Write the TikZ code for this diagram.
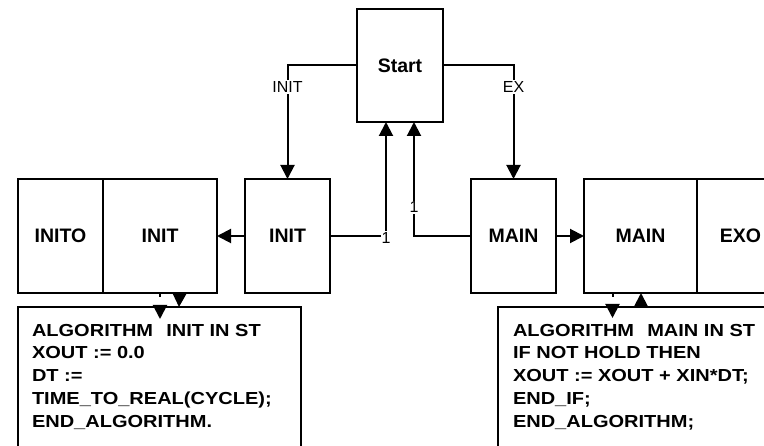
\documentclass[tikz,border=0pt]{standalone}
\usepackage{fontspec}
\setmainfont{Liberation Sans}
\newfontfamily\codefont[FakeStretch=1.15]{Liberation Sans}
\usetikzlibrary{arrows.meta}

\begin{document}
\begin{tikzpicture}[x=1pt, y=-1pt, line width=2pt,
  blk/.style={draw, rectangle, inner sep=0pt, outer sep=0pt,
    font=\bfseries\fontsize{19.5}{23}\selectfont},
  codebox/.style={draw, rectangle, inner sep=0pt, outer sep=0pt},
  code/.style={anchor=north west, inner sep=0pt, align=left,
    font=\codefont\bfseries\fontsize{17.4}{22.75}\selectfont},
  lbl/.style={fill=white, inner sep=1.5pt, font=\fontsize{16}{18}\selectfont},
  num/.style={fill=white, inner sep=1pt, font=\fontsize{16}{18}\selectfont},
  arr/.style={-{Triangle[length=14pt, width=14pt]}},
  gapped/.style={dash pattern=on 4pt off 9pt on 40pt}]

\useasboundingbox (0,0) rectangle (764,446);
\clip (0,0) rectangle (764,446);

% function blocks
\node[blk, minimum width=86pt, minimum height=113pt] (start) at (400,65.5) {Start};
\node[blk, minimum width=85pt, minimum height=114pt] (initS) at (287.5,236) {INIT};
\node[blk, minimum width=85pt, minimum height=114pt] (mainS) at (513.5,236) {MAIN};

% composite blocks with two compartments
\node[blk, minimum width=85pt, minimum height=114pt] (inito) at (60.5,236) {INITO};
\node[blk, minimum width=114pt, minimum height=114pt] (initfb) at (160,236) {INIT};
\node[blk, minimum width=113pt, minimum height=114pt] (mainfb) at (640.5,236) {MAIN};
\node[blk, minimum width=87pt, minimum height=114pt] (exo) at (740.5,236) {EXO};

% algorithm boxes
\node[codebox, minimum width=283pt, minimum height=163pt] (algoInit) at (159.5,388.5) {};
\node[codebox, minimum width=292pt, minimum height=163pt] (algoMain) at (644,388.5) {};
\node[code] (txtInit) at (31,323) {ALGORITHM~\hspace{2pt}~INIT IN ST\\XOUT := 0.0\\DT :=\\TIME\_TO\_REAL(CYCLE);\\END\_ALGORITHM.};
\node[code] (txtMain) at (512,323) {ALGORITHM~\hspace{2pt}~MAIN IN ST\\IF NOT HOLD THEN\\XOUT := XOUT + XIN*DT;\\END\_IF;\\END\_ALGORITHM;};

% transitions out of Start
\coordinate (upL) at ([xshift=-14pt]start.south);
\coordinate (upR) at ([xshift=14pt]start.south);
\draw[arr] (start.west) -| node[lbl, pos=0.593] {INIT} (initS.north);
\draw[arr] (start.east) -| node[lbl, pos=0.593] {EX} (mainS.north);

% transitions back to Start
\draw[arr] (initS.east) -| node[num, pos=0.5, yshift=-2pt] {1} (upL);
\draw[arr] (mainS.west) -| node[num, pos=0.627] {1} (upR);

% actions
\draw[arr] (initS.west) -- (initfb.east);
\draw[arr] (mainS.east) -- (mainfb.west);

% links between blocks and algorithms
\coordinate (inDown) at ([yshift=-12pt]algoInit.north -| initfb.south);
\draw[arr, gapped] (initfb.south) -- (inDown);
\draw[arr] ([xshift=19.5pt]initfb.south) -- ([xshift=19.5pt]algoInit.north);
\coordinate (mnDown) at ([xshift=-28pt, yshift=-11pt]mainfb.south |- algoMain.north);
\draw[arr, gapped] ([xshift=-28pt]mainfb.south) -- (mnDown);
\draw[arr] ([xshift=0.5pt]mainfb.south |- algoMain.north) -- ([xshift=0.5pt]mainfb.south);

\end{tikzpicture}
\end{document}
